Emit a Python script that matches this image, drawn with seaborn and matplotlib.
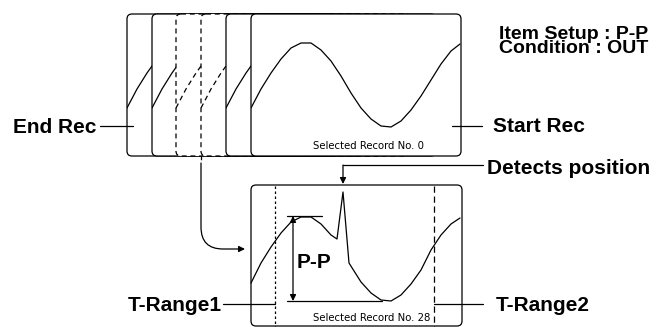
import matplotlib.pyplot as plt
import matplotlib.font_manager as fm
import seaborn as sns
from matplotlib.patches import FancyBboxPatch, FancyArrowPatch
from matplotlib.path import Path

# stacked record frames (left edge in px) and their line styles
frame_lefts = [127, 152, 176, 201, 226, 251]
frame_dashed = [False, False, True, True, False, False]

wave_dx = [0, 10, 20, 30, 40, 50, 60, 70, 80, 90, 100, 110, 120, 130, 140,
           150, 160, 170, 180, 190, 200, 209]
wave_y = [108, 89, 73, 59, 48, 43, 43, 50, 61, 76, 93, 108, 119, 126, 127,
          121, 110, 96, 80, 64, 51, 44]

# selected record with the detected spike
sel_x = [251, 261, 271, 281, 291, 301, 311, 321, 331, 337, 343, 349, 361,
         371, 381, 391, 401, 411, 421, 431, 441, 451, 460]
sel_y = [283, 263, 247, 233, 222, 217, 217, 224, 235, 239, 192, 263, 282,
         293, 300, 301, 295, 284, 270, 250, 235, 224, 218]

labels = {
    'end': 'End Rec',
    'start': 'Start Rec',
    'setup': 'Item Setup : P-P\nCondition : OUT',
    'detect': 'Detects position',
    'tr1': 'T-Range1',
    'tr2': 'T-Range2',
    'pp': 'P-P',
    'rec0': 'Selected Record No. 0',
    'rec28': 'Selected Record No. 28',
}

sns.set_style('white')
plt.rcParams['font.family'] = ['Liberation Sans', 'DejaVu Sans']

# the record captions use a condensed face; pick what is installed
fonts = fm.fontManager.ttflist
if any(f.name == 'Liberation Sans Narrow' for f in fonts):
    small = dict(family=['Liberation Sans Narrow'], fontsize=10.5)
elif any(f.name == 'DejaVu Sans' and f.stretch not in ('normal', 500)
         for f in fonts):
    small = dict(family=['DejaVu Sans'], stretch='condensed', fontsize=8.1)
else:
    small = dict(family=['Liberation Sans'], fontsize=8.2)
small.update(color='black', va='baseline')

fig = plt.figure(figsize=(6.63, 3.27), dpi=100)
ax = fig.add_axes([0, 0, 1, 1])
ax.set_xlim(0, 663)
ax.set_ylim(327, 0)
ax.axis('off')

lw = 0.9
big = dict(fontsize=15, fontweight='bold', color='black', va='baseline')

# top stack of records
for i, (left, dashed) in enumerate(zip(frame_lefts, frame_dashed)):
    ls = (0, (4, 3)) if dashed else '-'
    box = FancyBboxPatch((left, 14), 210, 142,
                         boxstyle='round,pad=0,rounding_size=5',
                         facecolor='white', edgecolor='black', lw=lw,
                         linestyle=ls, zorder=1 + 2 * i)
    ax.add_patch(box)
    sns.lineplot(x=[left + d for d in wave_dx], y=wave_y, ax=ax,
                 color='black', lw=lw, linestyle=ls)
    line = ax.lines[-1]
    line.set_zorder(2 + 2 * i)
    line.set_clip_path(box)

ax.text(313, 149, labels['rec0'], zorder=20, **small)

# bottom selected record
box2 = FancyBboxPatch((251, 185), 211, 141,
                      boxstyle='round,pad=0,rounding_size=5',
                      facecolor='white', edgecolor='black', lw=lw, zorder=1)
ax.add_patch(box2)
sns.lineplot(x=sel_x, y=sel_y, ax=ax, color='black', lw=lw)
ax.lines[-1].set_zorder(3)
ax.text(313, 321, labels['rec28'], zorder=5, **small)

# T-Range markers
ax.plot([275, 275], [186, 327], color='black', lw=lw, ls=(0, (2, 2)), zorder=4)
ax.plot([434, 434], [186, 327], color='black', lw=lw, ls=(0, (5, 3)), zorder=4)
ax.plot([223, 275], [304, 304], color='black', lw=lw, zorder=4)
ax.plot([434, 483], [304, 304], color='black', lw=lw, zorder=4)
ax.text(222, 311, labels['tr1'], ha='right', **big)
ax.text(496, 311, labels['tr2'], ha='left', **big)

# P-P measure
ax.plot([287, 322], [216, 216], color='black', lw=lw, zorder=4)
ax.plot([287, 382], [301, 301], color='black', lw=lw, zorder=4)
ax.annotate('', xy=(293, 216), xytext=(293, 301),
            arrowprops=dict(arrowstyle='<|-|>', color='black', lw=lw,
                            mutation_scale=9, shrinkA=0, shrinkB=0),
            zorder=4)
ax.text(297, 268, labels['pp'], ha='left', zorder=5, **big)

# detects position leader
ax.plot([483, 343], [165, 165], color='black', lw=lw)
ax.annotate('', xy=(343, 184), xytext=(343, 165),
            arrowprops=dict(arrowstyle='-|>', color='black', lw=lw,
                            mutation_scale=9, shrinkA=0, shrinkB=0))
ax.text(487, 174, labels['detect'], ha='left', **big)

# curved arrow from record 28 down to the selected record
ax.plot([201, 201], [156, 163], color='black', lw=lw, ls=(0, (3, 3)))
verts = [(201, 163), (201, 227), (201, 249), (223, 249), (245, 249)]
codes = [Path.MOVETO, Path.LINETO, Path.CURVE3, Path.CURVE3, Path.LINETO]
ax.add_patch(FancyArrowPatch(path=Path(verts, codes), arrowstyle='-|>',
                             mutation_scale=9, color='black', lw=lw))

# start / end labels
ax.plot([100, 133], [126, 126], color='black', lw=lw, zorder=20)
ax.text(13, 133, labels['end'], ha='left', **big)
ax.plot([452, 482], [126, 126], color='black', lw=lw, zorder=20)
ax.text(493, 132, labels['start'], ha='left', **big)

ax.text(499, 26, labels['setup'], ha='left', fontsize=14, fontweight='bold',
        color='black', va='top', linespacing=0.8)

plt.savefig('out.png', dpi=100)
plt.close()
